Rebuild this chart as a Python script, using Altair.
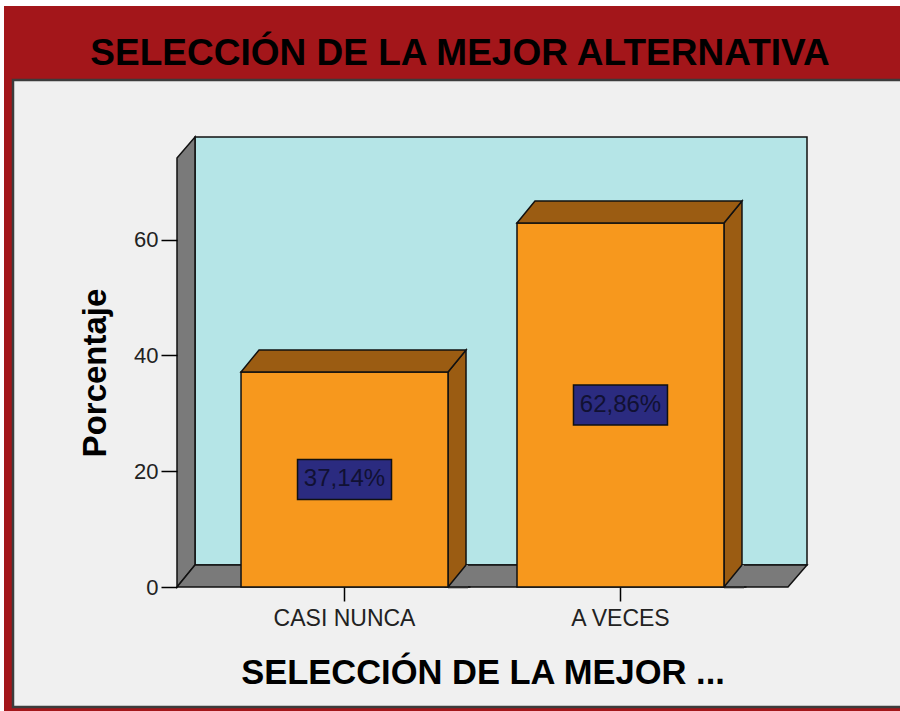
import altair as alt
import pandas as pd

# ---- data ----
categories = ["CASI NUNCA", "A VECES"]
values = [37.14, 62.86]
labels = ["37,14%", "62,86%"]
y_ticks = [0, 20, 40, 60]
title_text = "SELECCIÓN DE LA MEJOR ALTERNATIVA"

# ---- style constants ----
FONT = "Liberation Sans"
RED = "#a3161a"
PANEL = "#f0f0f0"
WALL = "#b5e5e7"
GRAY = "#7a7a7a"
ORANGE = "#f7981d"
BROWN = "#9b5c12"
NAVY = "#2b2b80"
W, H = 611, 429

df = pd.DataFrame({"cat": categories, "val": values, "lab": labels})
df["mid"] = df["val"] / 2
df["zero"] = 0
one = pd.DataFrame({"k": [0]})
tdf = pd.DataFrame({"t": [title_text]})

xsc = alt.Scale(domain=categories, paddingInner=0.25, paddingOuter=0.232)
ysc = alt.Scale(domain=[0, 74.1], nice=False, zero=True)

xenc = alt.X("cat:N", sort=categories, scale=xsc,
             axis=alt.Axis(domain=False, tickColor="black", tickWidth=1.5, tickSize=14,
                           labelPadding=6, labelFont=FONT, labelFontSize=23, labelColor="#222",
                           labelAngle=0, titleFont=FONT, titleFontSize=34.5, titleFontWeight="bold",
                           titleColor="black", titlePadding=26, zindex=1, grid=False),
             title="SELECCIÓN DE LA MEJOR ...")
yenc = alt.Y("val:Q", scale=ysc,
             axis=alt.Axis(values=y_ticks, domain=False, tickColor="black", tickWidth=1.5, tickSize=16,
                           labelPadding=3, labelFont=FONT, labelFontSize=22, labelColor="#222",
                           titleFont=FONT, titleFontSize=33, titleFontWeight="bold",
                           titleColor="black", titlePadding=21, zindex=1, grid=False),
             title="Porcentaje")

frame = alt.Chart(one).mark_rect(fill=RED).encode(
    x=alt.value(-173), x2=alt.value(730), y=alt.value(-152), y2=alt.value(560))
panel = alt.Chart(one).mark_rect(fill=PANEL, stroke="#3c3c3c", strokeWidth=2.5).encode(
    x=alt.value(-164), x2=alt.value(740), y=alt.value(-78), y2=alt.value(549))
title = alt.Chart(tdf).mark_text(font=FONT, fontSize=37, fontWeight="bold", color="black",
                                 align="center", baseline="alphabetic").encode(
    x=alt.value(283), y=alt.value(-93), text="t:N")
back = alt.Chart(one).mark_rect(fill=WALL, stroke="#111", strokeWidth=1.5).encode(
    x=alt.value(18), x2=alt.value(630), y=alt.value(-21), y2=alt.value(407))
left_wall = alt.Chart(one).mark_point(
    shape="M0,0 L18,-21 L18,407 L0,429 Z", size=4, filled=True, fill=GRAY,
    stroke="#111", strokeWidth=1.5, opacity=1).encode(x=alt.value(0), y=alt.value(0))
floor = alt.Chart(one).mark_point(
    shape="M0,429 L18,407 L630,407 L611,429 Z", size=4, filled=True, fill=GRAY,
    stroke="#111", strokeWidth=1.5, opacity=1).encode(x=alt.value(0), y=alt.value(0))

base = alt.Chart(df)
side = base.mark_point(
    shape="M103.5,0 L121.5,-22 L121.5,1000 L103.5,1000 Z", size=4, filled=True, fill=BROWN,
    stroke="#111", strokeWidth=1.5, opacity=1, clip=True).encode(x=xenc, y=yenc)
side_fix = base.mark_point(
    shape="M103.5,0 L121.5,-22 L123.5,-22 L123.5,1.5 L103.5,1.5 Z", size=4, filled=True,
    fill=GRAY, strokeWidth=0, opacity=1).encode(x=xenc, y=alt.Y("zero:Q", scale=ysc))
side_line = base.mark_point(
    shape="M100,0 L126,0 M103.5,0 L121.5,-22", size=4, filled=False, stroke="#111",
    strokeWidth=1.5, opacity=1).encode(x=xenc, y=alt.Y("zero:Q", scale=ysc))
bars = base.mark_bar(fill=ORANGE, stroke="#111", strokeWidth=1.5, opacity=1).encode(
    x=xenc, y=yenc, y2=alt.Y2("zero:Q"))
top = base.mark_point(
    shape="M-103.5,0 L-85.5,-22 L121.5,-22 L103.5,0 Z", size=4, filled=True, fill=BROWN,
    stroke="#111", strokeWidth=1.5, opacity=1).encode(x=xenc, y=yenc)
box = base.mark_point(
    shape="M-47,-20 L47,-20 L47,20 L-47,20 Z", size=4, filled=True, fill=NAVY,
    stroke="#111", strokeWidth=1.5, opacity=1).encode(x=xenc, y=alt.Y("mid:Q", scale=ysc))
text = base.mark_text(font=FONT, fontSize=24, color="#111133", align="center",
                      baseline="middle").encode(x=xenc, y=alt.Y("mid:Q", scale=ysc), text="lab:N")

chart = alt.layer(frame, panel, title, back, left_wall, floor, side, side_fix, side_line,
                  bars, top, box, text).properties(
    width=W, height=H,
    autosize=alt.AutoSizeParams(type="none"),
    padding={"left": 177, "top": 158, "right": 112, "bottom": 124},
).configure(background="white").configure_view(stroke=None)

chart.save("out.html", embed_options={"renderer": "svg", "actions": False})
